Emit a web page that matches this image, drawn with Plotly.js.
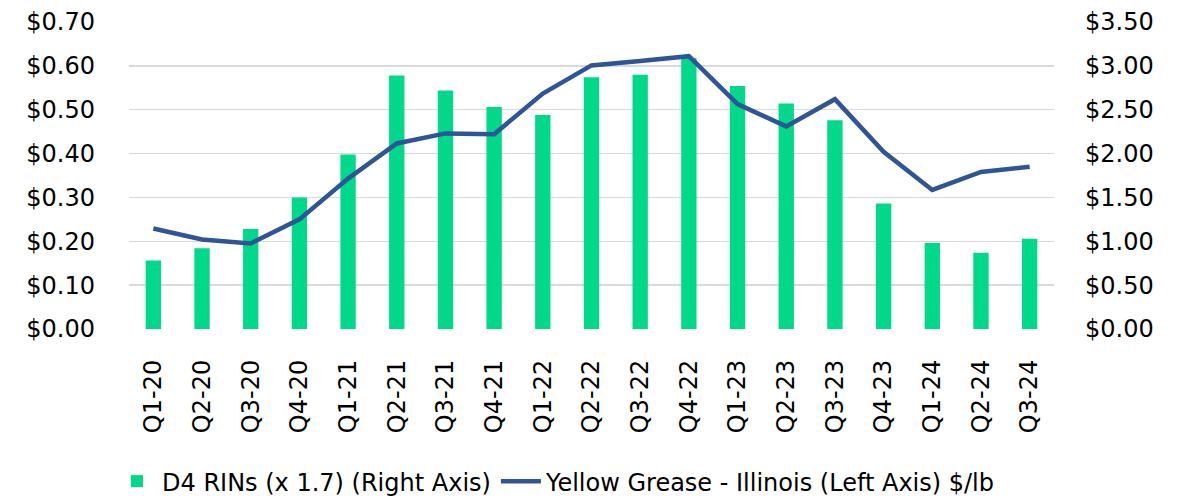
<!DOCTYPE html>
<html>
<head>
<meta charset="utf-8">
<script src="https://cdn.plot.ly/plotly-3.0.1.min.js"></script>
<style>html,body{margin:0;padding:0;background:#fff;}#chart{width:1184px;height:499px;}</style>
</head>
<body>
<div id="chart"></div>
<script>
var quarters = ["Q1-20","Q2-20","Q3-20","Q4-20","Q1-21","Q2-21","Q3-21","Q4-21","Q1-22","Q2-22","Q3-22","Q4-22","Q1-23","Q2-23","Q3-23","Q4-23","Q1-24","Q2-24","Q3-24"];
var d4Rins = [0.78,0.92,1.14,1.50,1.99,2.89,2.72,2.53,2.44,2.87,2.90,3.09,2.77,2.57,2.38,1.43,0.98,0.87,1.03];
var yellowGrease = [0.229,0.204,0.195,0.250,0.343,0.423,0.446,0.444,0.537,0.601,0.611,0.622,0.513,0.462,0.524,0.404,0.317,0.358,0.370];
var barName = "D4 RINs (x 1.7) (Right Axis)";
var lineName = "Yellow Grease - Illinois (Left Axis) $/lb";

var FONT = "'DejaVu Sans', sans-serif";

var traces = [
  {type:"bar", x:quarters, y:d4Rins, name:barName, yaxis:"y",
   marker:{color:"#00D88A"}},
  {type:"scatter", mode:"lines", x:quarters, y:yellowGrease, name:lineName, yaxis:"y2",
   line:{color:"#2E5597", width:4.5}}
];

var layout = {
  width:1184, height:499,
  margin:{l:129, r:130, t:22, b:170, autoexpand:false},
  paper_bgcolor:"#fff", plot_bgcolor:"#fff",
  font:{family:FONT, size:24, color:"#000"},
  showlegend:true,
  bargap:0.685,
  xaxis:{type:"category", tickangle:-90, showgrid:false, zeroline:false, showline:false, automargin:false,
         ticks:"", ticklabelstandoff:25, tickfont:{size:24}},
  yaxis:{side:"right", range:[0,3.5], dtick:0.5, tickformat:"$.2f", automargin:false,
         showgrid:true, gridcolor:"#d9d9d9", gridwidth:1.5, zeroline:false, showline:false,
         ticks:"", ticklabelstandoff:30, tickfont:{size:24}},
  yaxis2:{overlaying:"y", side:"left", range:[0,0.7], dtick:0.1, tickformat:"$.2f", automargin:false,
          showgrid:false, zeroline:false, showline:false,
          ticks:"", ticklabelstandoff:33, tickfont:{size:24}},
  legend:{orientation:"h", xref:"container", yref:"container", x:0.0946, xanchor:"left", y:0.035, yanchor:"middle",
          font:{size:24}, itemwidth:40, bgcolor:"rgba(0,0,0,0)"}
};

Plotly.newPlot("chart", traces, layout, {displayModeBar:false, staticPlot:true});
</script>
</body>
</html>
